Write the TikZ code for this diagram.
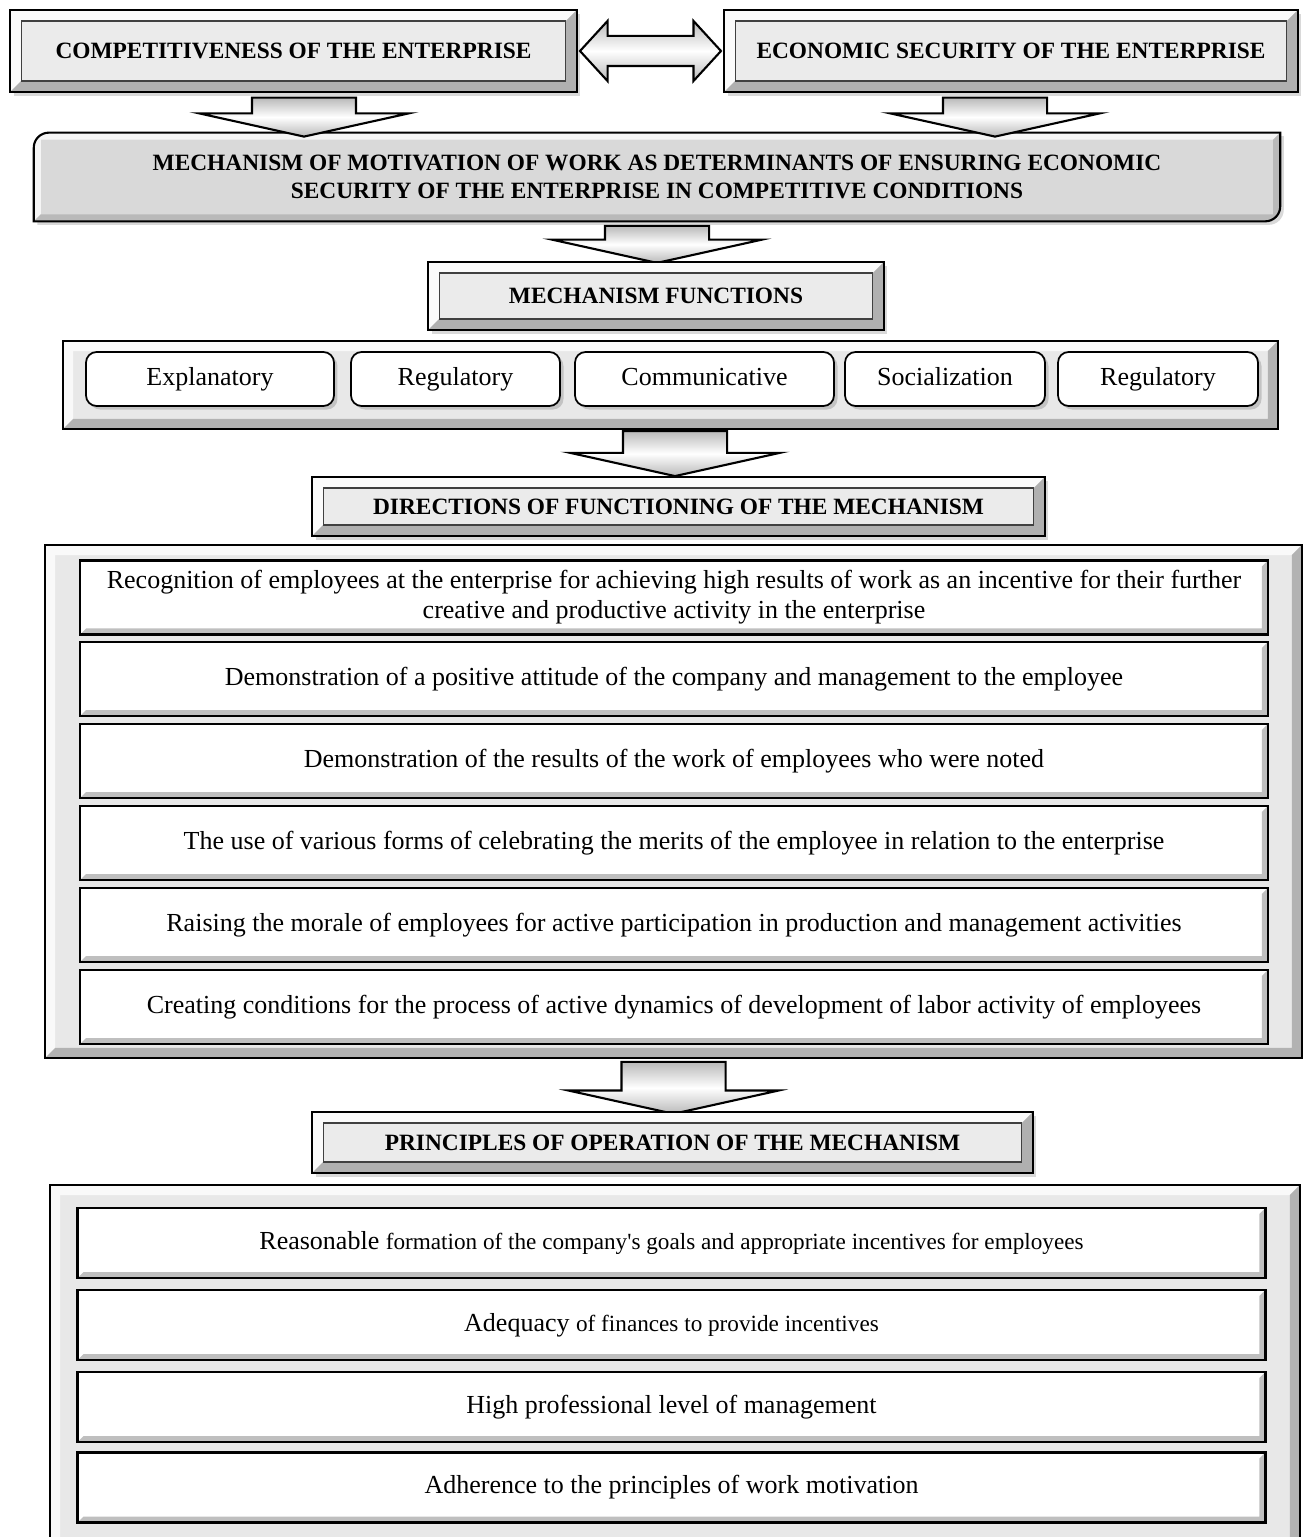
\documentclass[tikz,border=0pt]{standalone}
\usepackage{fontspec}
\setmainfont{Liberation Serif}
\usetikzlibrary{shapes.arrows,shadows,calc,backgrounds}

% raised frame drawn inside a path: width, light side, dark side, inner line
\tikzset{
  bevel/.style n args={4}{path picture={
    \path (path picture bounding box.south west) coordinate (o1)
      (path picture bounding box.north west) coordinate (o2)
      (path picture bounding box.north east) coordinate (o3)
      (path picture bounding box.south east) coordinate (o4)
      ([shift={(#1,#1)}]o1) coordinate (i1)
      ([shift={(#1,-#1)}]o2) coordinate (i2)
      ([shift={(-#1,-#1)}]o3) coordinate (i3)
      ([shift={(-#1,#1)}]o4) coordinate (i4);
    \fill[#2] (o1) -- (o2) -- (o3) -- (i3) -- (i2) -- (i1) -- cycle;
    \fill[#3] (o1) -- (o4) -- (o3) -- (i3) -- (i4) -- (i1) -- cycle;
    \draw[#4, line width=0.6pt] (i1) rectangle (i3);
  }},
}

\begin{document}
\begin{tikzpicture}[x=0.02cm, y=-0.02cm,
  hdr/.style={draw, line width=1.2pt, fill=gray!16,
    bevel={0.22cm}{gray!3}{gray!62}{draw=black!75},
    drop shadow={shadow xshift=2pt, shadow yshift=-2pt, opacity=0.3},
    font=\fontsize{13.3}{15.5}\selectfont\bfseries, align=center},
  panel/.style={draw, line width=1.2pt, fill=gray!18,
    bevel={0.2cm}{gray!5}{gray!60}{draw=none}},
  fbox/.style={draw, line width=1pt, fill=white, rounded corners=6pt,
    minimum height=1.08cm, text height=2.1ex, text depth=0.6ex,
    drop shadow={shadow xshift=2pt, shadow yshift=-2pt, opacity=0.35},
    font=\fontsize{14.8}{17}\selectfont},
  row/.style={draw, line width=1.5pt, fill=white, minimum width=23.76cm,
    bevel={0.12cm}{white}{gray!50}{draw=none},
    font=\fontsize{14.8}{17}\selectfont, align=center},
  downarr/.style={single arrow, rotate=-90, anchor=tail, draw, line width=1.2pt,
    top color=gray!55, bottom color=gray!55, middle color=white,
    minimum width=4.16cm, single arrow head extend=1.06cm,
    single arrow tip angle=155, inner xsep=0pt, inner ysep=1.02cm}]
  \useasboundingbox (0,0) rectangle (1303,1537);

  % the two starting blocks
  \node[hdr, minimum width=11.34cm, minimum height=1.64cm] (comp) at (293.5,51)
    {COMPETITIVENESS OF THE ENTERPRISE};
  \node[hdr, minimum width=11.48cm, minimum height=1.64cm] (econ) at (1011,51)
    {ECONOMIC SECURITY OF THE ENTERPRISE};
  \node[double arrow, draw, line width=1.2pt, top color=gray!55, bottom color=gray!55,
    middle color=white, minimum height=2.82cm, minimum width=1.16cm,
    double arrow head extend=0.3cm, double arrow tip angle=95,
    inner xsep=0pt, inner ysep=0.28cm] (link) at ($(comp.east)!0.5!(econ.west)$) {};

  % mechanism of motivation
  \node[font=\fontsize{13.3}{15.5}\selectfont\bfseries, align=center,
    minimum width=24.92cm, minimum height=1.76cm] (mech) at (657,177)
    {MECHANISM OF MOTIVATION OF WORK AS DETERMINANTS OF ENSURING ECONOMIC\\
     SECURITY OF THE ENTERPRISE IN COMPETITIVE CONDITIONS};
  \begin{pgfonlayer}{background}
    \draw[line width=1.2pt, fill=gray!30, bevel={0.14cm}{gray!8}{gray!55}{draw=none},
      drop shadow={shadow xshift=2pt, shadow yshift=-2pt, opacity=0.3}]
      (mech.south west) [rounded corners=0.3cm] -- (mech.north west) [sharp corners]
      -- (mech.north east) [rounded corners=0.3cm] -- (mech.south east) [sharp corners]
      -- cycle;
  \end{pgfonlayer}
  \node[downarr, minimum height=0.78cm] (a1) at ([xshift=0.21cm,yshift=-2pt]comp.south) {};
  \node[downarr, minimum height=0.78cm] (a2) at ([xshift=-0.32cm,yshift=-2pt]econ.south) {};
  \node[downarr, minimum height=0.74cm] (a3) at ([yshift=-2pt]mech.south) {};

  % functions
  \node[hdr, minimum width=9.12cm, minimum height=1.36cm] (funcs) at (656,296)
    {MECHANISM FUNCTIONS};
  \node[panel, minimum width=24.3cm, minimum height=1.76cm] (pfun) at (670.5,385) {};
  \node[fbox, minimum width=4.96cm] (f1) at (210,379) {Explanatory};
  \node[fbox, minimum width=4.18cm] (f2) at (455.5,379) {Regulatory};
  \node[fbox, minimum width=5.18cm] (f3) at (704.5,379) {Communicative};
  \node[fbox, minimum width=4.00cm] (f4) at (945,379) {Socialization};
  \node[fbox, minimum width=4.00cm] (f5) at (1158,379) {Regulatory};
  \node[downarr, minimum height=0.9cm] (a4) at ([xshift=0.09cm]pfun.south) {};

  % directions
  \node[hdr, minimum width=14.66cm, minimum height=1.18cm] (dirs) at (678.5,506.5)
    {DIRECTIONS OF FUNCTIONING OF THE MECHANISM};
  \node[panel, minimum width=25.14cm, minimum height=10.26cm] (pdir) at (673.5,801.5) {};
  \node[row, minimum height=1.48cm] (d1) at (674,597.5)
    {Recognition of employees at the enterprise for achieving high results of work as an incentive for their further\\
     creative and productive activity in the enterprise};
  \node[row, minimum height=1.48cm] (d2) at (674,679)
    {Demonstration of a positive attitude of the company and management to the employee};
  \node[row, minimum height=1.48cm] (d3) at (674,761)
    {Demonstration of the results of the work of employees who were noted};
  \node[row, minimum height=1.48cm] (d4) at (674,843)
    {The use of various forms of celebrating the merits of the employee in relation to the enterprise};
  \node[row, minimum height=1.48cm] (d5) at (674,925)
    {Raising the morale of employees for active participation in production and management activities};
  \node[row, minimum height=1.48cm] (d6) at (674,1007)
    {Creating conditions for the process of active dynamics of development of labor activity of employees};
  \node[downarr, minimum height=1.04cm] (a5) at ([yshift=-1pt]pdir.south) {};

  % principles
  \node[hdr, minimum width=14.42cm, minimum height=1.22cm] (princ) at (672.5,1142.5)
    {PRINCIPLES OF OPERATION OF THE MECHANISM};
  \node[panel, minimum width=25.0cm, minimum height=7.6cm] (pprin) at (675,1375) {};
  \node[row, minimum height=1.40cm] (p1) at (671.5,1243)
    {Reasonable {\fontsize{13.2}{15}\selectfont formation of the company\textquotesingle s goals and appropriate incentives for employees}};
  \node[row, minimum height=1.40cm] (p2) at (671.5,1325)
    {Adequacy {\fontsize{13.2}{15}\selectfont of finances to provide incentives}};
  \node[row, minimum height=1.40cm] (p3) at (671.5,1407)
    {High professional level of management};
  \node[row, minimum height=1.40cm] (p4) at (671.5,1487.5)
    {Adherence to the principles of work motivation};
\end{tikzpicture}
\end{document}
